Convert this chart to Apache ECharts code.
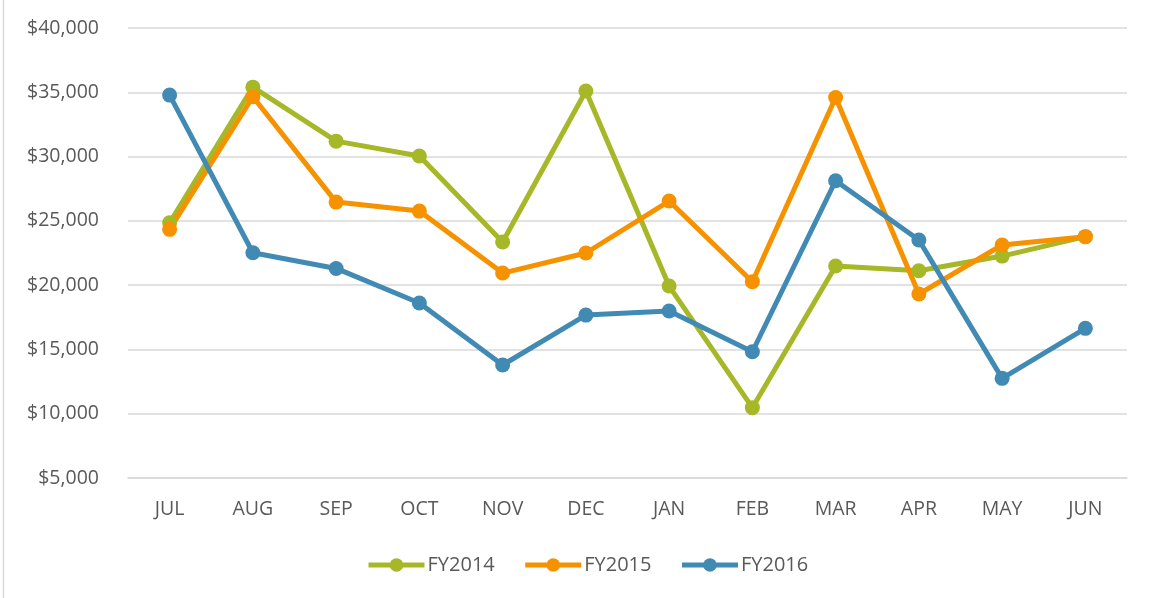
<!DOCTYPE html>
<html>
<head>
<meta charset="utf-8">
<script src="https://cdn.jsdelivr.net/npm/echarts@6/dist/echarts.min.js"></script>
<style>
html,body{margin:0;padding:0;background:#fff;}
#chart{width:1151px;height:598px;}
</style>
</head>
<body>
<div id="chart"></div>
<script>
const months = ["JUL","AUG","SEP","OCT","NOV","DEC","JAN","FEB","MAR","APR","MAY","JUN"];
const fy2014 = [24850,35400,31200,30040,23350,35100,19930,10470,21490,21120,22260,23770];
const fy2015 = [24340,34650,26460,25760,20940,22500,26540,20270,34600,19310,23120,23770];
const fy2016 = [34780,22520,21300,18610,13790,17670,17990,14820,28120,23510,12750,16640];
const seriesNames = ["FY2014","FY2015","FY2016"];
const colors = ["#A6B727","#F69200","#418AB3"];

const chart = echarts.init(document.getElementById('chart'));
const font = "'Open Sans', sans-serif";
function mk(name, data, color){
  return {
    name: name, type: 'line', data: data,
    symbol: 'circle', symbolSize: 15,
    lineStyle: {width: 5, color: color},
    itemStyle: {color: color},
    emphasis: {disabled: true},
    animation: false
  };
}
chart.setOption({
  animation: false,
  grid: {left: 128, right: 24, top: 28, bottom: 120, containLabel: false},
  xAxis: {
    type: 'category', data: months, boundaryGap: true,
    axisLine: {show: true, lineStyle: {color: '#D9D9D9', width: 1.5}},
    axisTick: {show: false},
    axisLabel: {color: '#595959', fontSize: 19.5, fontFamily: font, margin: 21}
  },
  yAxis: {
    type: 'value', min: 5000, max: 40000, interval: 5000,
    axisLine: {show: false}, axisTick: {show: false},
    splitLine: {lineStyle: {color: '#D9D9D9', width: 1.5}},
    axisLabel: {
      color: '#595959', fontSize: 19.5, fontFamily: font, margin: 29,
      formatter: v => '$' + v.toLocaleString('en-US')
    }
  },
  legend: {
    data: seriesNames, left: 361, top: 550,
    itemWidth: 56, itemHeight: 17, itemGap: 28,
    lineStyle: {width: 5},
    textStyle: {color: '#595959', fontSize: 20, fontFamily: font, padding: [0,0,0,-2]}
  },
  graphic: [{
    type: 'line', shape: {x1: 3.5, y1: 0, x2: 3.5, y2: 598},
    style: {stroke: '#D9D9D9', lineWidth: 1.5}, silent: true
  }],
  series: [mk(seriesNames[0], fy2014, colors[0]), mk(seriesNames[1], fy2015, colors[1]), mk(seriesNames[2], fy2016, colors[2])]
});
</script>
</body>
</html>
